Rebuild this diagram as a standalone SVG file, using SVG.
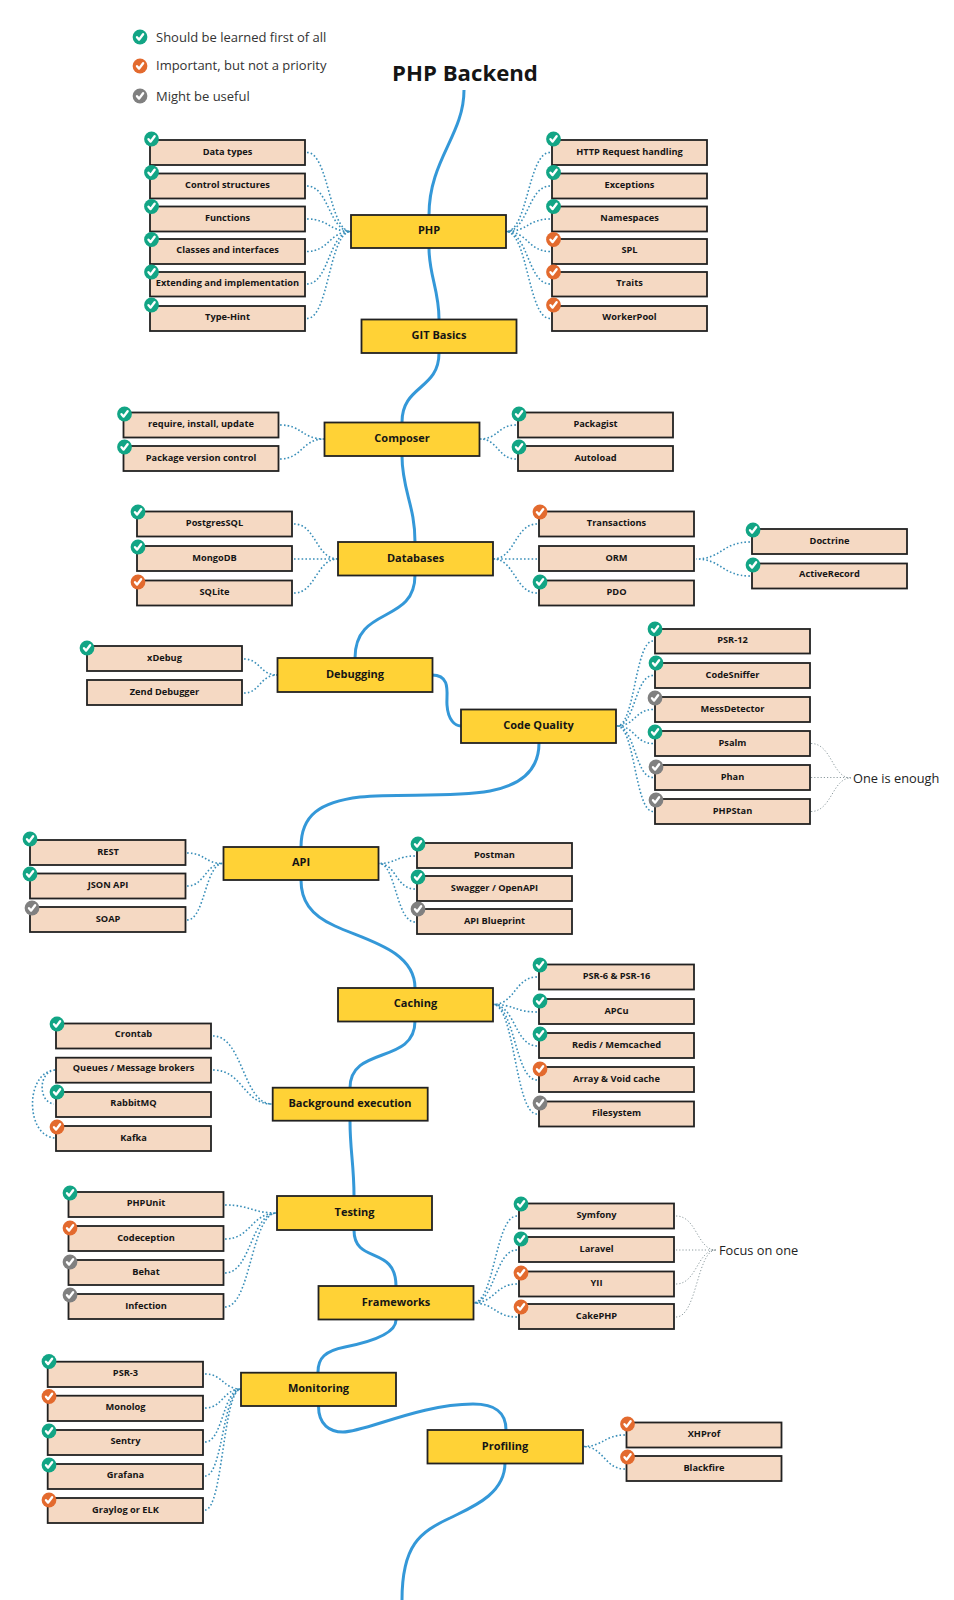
<svg xmlns="http://www.w3.org/2000/svg" width="954" height="1600" viewBox="0 0 954 1600">
<style>
text{font-family:"Open Sans","Noto Sans","Liberation Sans",sans-serif;fill:#151515}
.t{font-size:22.2px;font-weight:700;text-anchor:middle}
.lg{font-size:13px;fill:#333}
.nt{font-size:11px;font-weight:700;text-anchor:middle;transform:translateY(-1px)}
.lt{font-size:9.25px;font-weight:700;text-anchor:middle;transform:translateY(-1px)}
.nl{font-size:12.8px;fill:#222}
.n{fill:#ffd236;stroke:#222;stroke-width:1.8}
.l{fill:#f5d9c3;stroke:#222;stroke-width:1.8}
.m{fill:none;stroke:#3498d8;stroke-width:3}
.d{fill:none;stroke:#3a8fb9;stroke-width:1.6;stroke-dasharray:1.6 2.2}
.g{fill:none;stroke:#8c9a9e;stroke-width:1;stroke-dasharray:1.2 2}
.ck{fill:none;stroke:#fff;stroke-width:2.4;stroke-linecap:round;stroke-linejoin:round}
</style>
<defs>
<g id="G"><circle r="7.4" fill="#12a585"/><path class="ck" d="M-3 .2 -.9 2.6 3.1 -2.8"/></g>
<g id="O"><circle r="7.4" fill="#e36a2e"/><path class="ck" d="M-3 .2 -.9 2.6 3.1 -2.8"/></g>
<g id="Y"><circle r="7.4" fill="#808080"/><path class="ck" d="M-3 .2 -.9 2.6 3.1 -2.8"/></g>
</defs>
<g id="legend">
<use href="#G" x="140" y="37"/><text class="lg" x="156" y="42">Should be learned first of all</text>
<use href="#O" x="140" y="66"/><text class="lg" x="156" y="70">Important, but not a priority</text>
<use href="#Y" x="140" y="96"/><text class="lg" x="156" y="101">Might be useful</text>
</g>
<text id="title" class="t" x="465" y="81">PHP Backend</text>
<g id="connectors">
<g id="main">
<path class="m" d="M464 90C464 135 429 160 429 215"/>
<path class="m" d="M429 248C429 275 439 290 439 319"/>
<path class="m" d="M439 353C439 390 402 385 402 422"/>
<path class="m" d="M402 456C402 490 415 505 415 542"/>
<path class="m" d="M415 575C415 625 355 605 355 658"/>
<path class="m" d="M432 675C452 675 446 695 447 705C448 720 455 726 461 726"/>
<path class="m" d="M539 743C539 770 522 785 490 791C450 798 400 793 360 797C320 802 301 815 301 847"/>
<path class="m" d="M301 880C301 900 310 915 335 926C365 940 415 950 415 988"/>
<path class="m" d="M415 1021C415 1065 350 1045 350 1088"/>
<path class="m" d="M350 1121C350 1150 354 1165 354 1196"/>
<path class="m" d="M354 1230C354 1265 396 1245 396 1286"/>
<path class="m" d="M396 1320C396 1335 365 1343 345 1347C325 1351 318 1358 318 1372"/>
<path class="m" d="M318.500 1406C318.500 1425 330 1432 343 1432C365 1432 420 1404 473 1404C495 1404 506 1412 506 1430"/>
<path class="m" d="M505 1463C505 1495 470 1508 450 1518C420 1532 402 1545 402 1600"/>
</g>
<g id="dots">
<path class="d" d="M307 152.500C329 152.500 329 231.500 351 231.500M307 186C329 186 329 231.500 351 231.500M307 219C329 219 329 231.500 351 231.500M307 251.500C329 251.500 329 231.500 351 231.500M307 284C329 284 329 231.500 351 231.500M307 318.500C329 318.500 329 231.500 351 231.500"/>
<path class="d" d="M550 152.500C528 152.500 528 231.500 506 231.500M550 186C528 186 528 231.500 506 231.500M550 219C528 219 528 231.500 506 231.500M550 251.500C528 251.500 528 231.500 506 231.500M550 284C528 284 528 231.500 506 231.500M550 318.500C528 318.500 528 231.500 506 231.500"/>
<path class="d" d="M280 425C302 425 302 439 324 439M280 459C302 459 302 439 324 439"/>
<path class="d" d="M516 425C498 425 498 439 480 439M516 459C498 459 498 439 480 439"/>
<path class="d" d="M294 524C316 524 316 559 338 559M294 559H338M294 593C316 593 316 559 338 559"/>
<path class="d" d="M537 524C515 524 515 559 493 559M537 559H493M537 593C515 593 515 559 493 559"/>
<path class="d" d="M750 542C722 542 722 559 696 559M750 576C722 576 722 559 696 559"/>
<path class="d" d="M244 659C260 659 260 675 277 675M244 693C260 693 260 675 277 675"/>
<path class="d" d="M653 641C635 641 635 726 617 726M653 675.500C635 675.500 635 726 617 726M653 709.500C635 709.500 635 726 617 726M653 743.500C635 743.500 635 726 617 726M653 777.500C635 777.500 635 726 617 726M653 811.500C635 811.500 635 726 617 726"/>
<path class="d" d="M187 853C205 853 205 863.500 223 863.500M187 886C205 886 205 863.500 223 863.500M187 920C205 920 205 863.500 223 863.500"/>
<path class="d" d="M415 856C396 856 396 863.500 379 863.500M415 889C396 889 396 863.500 379 863.500M415 922C396 922 396 863.500 379 863.500"/>
<path class="d" d="M537 977C515 977 515 1004.500 493 1004.500M537 1012C515 1012 515 1004.500 493 1004.500M537 1046C515 1046 515 1004.500 493 1004.500M537 1080C515 1080 515 1004.500 493 1004.500M537 1114C515 1114 515 1004.500 493 1004.500"/>
<path class="d" d="M213 1036C243 1036 243 1104 272 1104M213 1070C243 1070 243 1104 272 1104"/>
<path class="d" d="M55 1070C38 1072 38 1102 54 1104M55 1070C25 1072 25 1136 55 1138"/>
<path class="d" d="M225 1205C251 1205 251 1213 277 1213M225 1239C251 1239 251 1213 277 1213M225 1273C251 1273 251 1213 277 1213M225 1307C251 1307 251 1213 277 1213"/>
<path class="d" d="M517 1216C495 1216 495 1303 473 1303M517 1250C495 1250 495 1303 473 1303M517 1284C495 1284 495 1303 473 1303M517 1317C495 1317 495 1303 473 1303"/>
<path class="d" d="M205 1374C223 1374 223 1389 241 1389M205 1408C223 1408 223 1389 241 1389M205 1442C223 1442 223 1389 241 1389M205 1476C223 1476 223 1389 241 1389M205 1510C223 1510 223 1389 241 1389"/>
<path class="d" d="M625 1435C604 1435 604 1446.500 583 1446.500M625 1469C604 1469 604 1446.500 583 1446.500"/>
<path class="g" d="M811 743.500C832 743.500 832 778 851 778M811 777.500H851M811 811.500C832 811.500 832 778 851 778"/>
<path class="g" d="M676 1216C697 1216 697 1250 716 1250M676 1250H716M676 1284C697 1284 697 1250 716 1250M676 1317C697 1317 697 1250 716 1250"/>
</g>
</g>
<g id="node-php"><rect class="n" x="351" y="215" width="155" height="33"/><text class="nt" x="429" y="235">PHP</text></g>
<g id="node-git"><rect class="n" x="361.500" y="319.500" width="155" height="33.500"/><text class="nt" x="439" y="340">GIT Basics</text></g>
<g id="node-composer"><rect class="n" x="324.500" y="422.500" width="155" height="33.500"/><text class="nt" x="402" y="443">Composer</text></g>
<g id="node-databases"><rect class="n" x="338" y="542" width="155" height="33.500"/><text class="nt" x="415.500" y="563">Databases</text></g>
<g id="node-debugging"><rect class="n" x="277.500" y="658" width="155" height="34"/><text class="nt" x="355" y="679">Debugging</text></g>
<g id="node-codequality"><rect class="n" x="461" y="709.500" width="155" height="33.500"/><text class="nt" x="538.500" y="730">Code Quality</text></g>
<g id="node-api"><rect class="n" x="223.500" y="847" width="155" height="33"/><text class="nt" x="301" y="867">API</text></g>
<g id="node-caching"><rect class="n" x="338" y="988" width="155" height="33.500"/><text class="nt" x="415.500" y="1008">Caching</text></g>
<g id="node-background"><rect class="n" x="272.700" y="1087.700" width="155" height="33"/><text class="nt" x="350" y="1107.500">Background execution</text></g>
<g id="node-testing"><rect class="n" x="277" y="1196" width="155" height="34"/><text class="nt" x="354.500" y="1217">Testing</text></g>
<g id="node-frameworks"><rect class="n" x="318.500" y="1286" width="155" height="33.500"/><text class="nt" x="396" y="1306.500">Frameworks</text></g>
<g id="node-monitoring"><rect class="n" x="241" y="1372.700" width="155" height="33.300"/><text class="nt" x="318.500" y="1393">Monitoring</text></g>
<g id="node-profiling"><rect class="n" x="427.500" y="1430" width="155.500" height="33.500"/><text class="nt" x="505" y="1450.500">Profiling</text></g>
<g id="leaves">
<g id="l1"><rect class="l" x="150" y="140" width="155" height="25"/><text class="lt" x="227.500" y="155.500">Data types</text><use href="#G" x="151.500" y="139"/></g>
<g id="l2"><rect class="l" x="150" y="173.500" width="155" height="25"/><text class="lt" x="227.500" y="188.500">Control structures</text><use href="#G" x="151.500" y="172.500"/></g>
<g id="l3"><rect class="l" x="150" y="206.500" width="155" height="25"/><text class="lt" x="227.500" y="221.500">Functions</text><use href="#G" x="151.500" y="206.500"/></g>
<g id="l4"><rect class="l" x="150" y="239" width="155" height="25"/><text class="lt" x="227.500" y="254">Classes and interfaces</text><use href="#G" x="151.500" y="239.500"/></g>
<g id="l5"><rect class="l" x="150" y="272" width="155" height="24.500"/><text class="lt" x="227.500" y="286.500">Extending and implementation</text><use href="#G" x="151.500" y="272"/></g>
<g id="l6"><rect class="l" x="150" y="306" width="155" height="25"/><text class="lt" x="227.500" y="321">Type-Hint</text><use href="#G" x="151.500" y="305"/></g>
<g id="l7"><rect class="l" x="552" y="140" width="155" height="25"/><text class="lt" x="629.500" y="155.500">HTTP Request handling</text><use href="#G" x="553.500" y="139"/></g>
<g id="l8"><rect class="l" x="552" y="173.500" width="155" height="25"/><text class="lt" x="629.500" y="188.500">Exceptions</text><use href="#G" x="553.500" y="172.500"/></g>
<g id="l9"><rect class="l" x="552" y="206.500" width="155" height="25"/><text class="lt" x="629.500" y="221.500">Namespaces</text><use href="#G" x="553.500" y="206.500"/></g>
<g id="l10"><rect class="l" x="552" y="239" width="155" height="25"/><text class="lt" x="629.500" y="254">SPL</text><use href="#O" x="553.500" y="239.500"/></g>
<g id="l11"><rect class="l" x="552" y="272" width="155" height="24.500"/><text class="lt" x="629.500" y="286.500">Traits</text><use href="#O" x="553.500" y="272"/></g>
<g id="l12"><rect class="l" x="552" y="306" width="155" height="25"/><text class="lt" x="629.500" y="321">WorkerPool</text><use href="#O" x="553.500" y="305"/></g>
<g id="l13"><rect class="l" x="123.500" y="412.500" width="155" height="25"/><text class="lt" x="201" y="428">require, install, update</text><use href="#G" x="124.500" y="414"/></g>
<g id="l14"><rect class="l" x="123.500" y="446" width="155" height="25"/><text class="lt" x="201" y="462">Package version control</text><use href="#G" x="124.500" y="447"/></g>
<g id="l15"><rect class="l" x="518" y="412.500" width="155" height="25"/><text class="lt" x="595.500" y="428">Packagist</text><use href="#G" x="519" y="414"/></g>
<g id="l16"><rect class="l" x="518" y="446" width="155" height="25"/><text class="lt" x="595.500" y="462">Autoload</text><use href="#G" x="519" y="447"/></g>
<g id="l17"><rect class="l" x="137" y="511.500" width="155" height="25"/><text class="lt" x="214.500" y="527">PostgresSQL</text><use href="#G" x="138" y="512"/></g>
<g id="l18"><rect class="l" x="137" y="546" width="155" height="25"/><text class="lt" x="214.500" y="561.500">MongoDB</text><use href="#G" x="138" y="547"/></g>
<g id="l19"><rect class="l" x="137" y="580.500" width="155" height="25"/><text class="lt" x="214.500" y="596">SQLite</text><use href="#O" x="138" y="582"/></g>
<g id="l20"><rect class="l" x="539" y="511.500" width="155" height="25"/><text class="lt" x="616.500" y="527">Transactions</text><use href="#O" x="540" y="512"/></g>
<g id="l21"><rect class="l" x="539" y="546" width="155" height="25"/><text class="lt" x="616.500" y="561.500">ORM</text></g>
<g id="l22"><rect class="l" x="539" y="580.500" width="155" height="25"/><text class="lt" x="616.500" y="596">PDO</text><use href="#G" x="540" y="582"/></g>
<g id="l23"><rect class="l" x="752" y="529" width="155" height="25"/><text class="lt" x="829.500" y="545">Doctrine</text><use href="#G" x="753" y="530"/></g>
<g id="l24"><rect class="l" x="752" y="563.500" width="155" height="25"/><text class="lt" x="829.500" y="578">ActiveRecord</text><use href="#G" x="753" y="565"/></g>
<g id="l25"><rect class="l" x="87" y="646" width="155" height="25"/><text class="lt" x="164.500" y="661.500">xDebug</text><use href="#G" x="87" y="648"/></g>
<g id="l26"><rect class="l" x="87" y="680" width="155" height="25"/><text class="lt" x="164.500" y="695.500">Zend Debugger</text></g>
<g id="l27"><rect class="l" x="655" y="629" width="155" height="24.500"/><text class="lt" x="732.500" y="644">PSR-12</text><use href="#G" x="655" y="629"/></g>
<g id="l28"><rect class="l" x="655" y="663" width="155" height="25"/><text class="lt" x="732.500" y="678.500">CodeSniffer</text><use href="#G" x="656" y="663"/></g>
<g id="l29"><rect class="l" x="655" y="697" width="155" height="25"/><text class="lt" x="732.500" y="712.500">MessDetector</text><use href="#Y" x="655" y="698"/></g>
<g id="l30"><rect class="l" x="655" y="731" width="155" height="25"/><text class="lt" x="732.500" y="746.500">Psalm</text><use href="#G" x="655" y="732"/></g>
<g id="l31"><rect class="l" x="655" y="765" width="155" height="25"/><text class="lt" x="732.500" y="780.500">Phan</text><use href="#Y" x="656" y="767"/></g>
<g id="l32"><rect class="l" x="655" y="799" width="155" height="25"/><text class="lt" x="732.500" y="814.500">PHPStan</text><use href="#Y" x="656" y="800"/></g>
<text id="one-is-enough" class="nl" x="853" y="782.500">One is enough</text>
<g id="l33"><rect class="l" x="30" y="840" width="155.500" height="25"/><text class="lt" x="108" y="855.500">REST</text><use href="#G" x="30" y="839"/></g>
<g id="l34"><rect class="l" x="30" y="873.500" width="155.500" height="25"/><text class="lt" x="108" y="889">JSON API</text><use href="#G" x="30" y="874"/></g>
<g id="l35"><rect class="l" x="30" y="907" width="155.500" height="25"/><text class="lt" x="108" y="922.500">SOAP</text><use href="#Y" x="32" y="908"/></g>
<g id="l36"><rect class="l" x="417" y="843" width="155" height="25"/><text class="lt" x="494.500" y="858.500">Postman</text><use href="#G" x="418" y="844"/></g>
<g id="l37"><rect class="l" x="417" y="876" width="155" height="25"/><text class="lt" x="494.500" y="891.500">Swagger / OpenAPI</text><use href="#G" x="418" y="877"/></g>
<g id="l38"><rect class="l" x="417" y="909" width="155" height="25"/><text class="lt" x="494.500" y="924.500">API Blueprint</text><use href="#Y" x="418" y="909"/></g>
<g id="l39"><rect class="l" x="539" y="964.500" width="155" height="25"/><text class="lt" x="616.500" y="980">PSR-6 &amp; PSR-16</text><use href="#G" x="540" y="965"/></g>
<g id="l40"><rect class="l" x="539" y="999" width="155" height="25"/><text class="lt" x="616.500" y="1014.500">APCu</text><use href="#G" x="540" y="1001"/></g>
<g id="l41"><rect class="l" x="539" y="1033" width="155" height="25"/><text class="lt" x="616.500" y="1048.500">Redis / Memcached</text><use href="#G" x="540" y="1034"/></g>
<g id="l42"><rect class="l" x="539" y="1067" width="155" height="25"/><text class="lt" x="616.500" y="1082.500">Array &amp; Void cache</text><use href="#O" x="540" y="1069"/></g>
<g id="l43"><rect class="l" x="539" y="1101.500" width="155" height="25"/><text class="lt" x="616.500" y="1117">Filesystem</text><use href="#Y" x="540" y="1103"/></g>
<g id="l44"><rect class="l" x="56" y="1023.500" width="155" height="25"/><text class="lt" x="133.500" y="1038">Crontab</text><use href="#G" x="57" y="1024"/></g>
<g id="l45"><rect class="l" x="56" y="1057.700" width="155" height="25"/><text class="lt" x="133.500" y="1072">Queues / Message brokers</text></g>
<g id="l46"><rect class="l" x="56" y="1092" width="155" height="25"/><text class="lt" x="133.500" y="1107">RabbitMQ</text><use href="#G" x="57" y="1092"/></g>
<g id="l47"><rect class="l" x="56" y="1126" width="155" height="25"/><text class="lt" x="133.500" y="1141.500">Kafka</text><use href="#O" x="57" y="1127"/></g>
<g id="l48"><rect class="l" x="68.500" y="1192" width="155" height="25"/><text class="lt" x="146" y="1207">PHPUnit</text><use href="#G" x="70" y="1193"/></g>
<g id="l49"><rect class="l" x="68.500" y="1226" width="155" height="25"/><text class="lt" x="146" y="1241.500">Codeception</text><use href="#O" x="70" y="1228"/></g>
<g id="l50"><rect class="l" x="68.500" y="1260" width="155" height="25"/><text class="lt" x="146" y="1275.500">Behat</text><use href="#Y" x="70" y="1262"/></g>
<g id="l51"><rect class="l" x="68.500" y="1294" width="155" height="25"/><text class="lt" x="146" y="1309.500">Infection</text><use href="#Y" x="70" y="1295"/></g>
<g id="l52"><rect class="l" x="519" y="1203.500" width="155" height="25"/><text class="lt" x="596.500" y="1218.500">Symfony</text><use href="#G" x="521" y="1204"/></g>
<g id="l53"><rect class="l" x="519" y="1237" width="155" height="25"/><text class="lt" x="596.500" y="1252.500">Laravel</text><use href="#G" x="521" y="1239"/></g>
<g id="l54"><rect class="l" x="519" y="1271.500" width="155" height="25"/><text class="lt" x="596.500" y="1287">YII</text><use href="#O" x="521" y="1273"/></g>
<g id="l55"><rect class="l" x="519" y="1304" width="155" height="25"/><text class="lt" x="596.500" y="1319.500">CakePHP</text><use href="#O" x="521" y="1307"/></g>
<text id="focus-on-one" class="nl" x="719" y="1255">Focus on one</text>
<g id="l56"><rect class="l" x="47.700" y="1361.700" width="155.300" height="25.300"/><text class="lt" x="125.500" y="1377">PSR-3</text><use href="#G" x="49" y="1361.500"/></g>
<g id="l57"><rect class="l" x="47.700" y="1395.700" width="155.300" height="25.300"/><text class="lt" x="125.500" y="1411">Monolog</text><use href="#O" x="49" y="1396.500"/></g>
<g id="l58"><rect class="l" x="47.700" y="1430" width="155.300" height="25"/><text class="lt" x="125.500" y="1445">Sentry</text><use href="#G" x="49" y="1431"/></g>
<g id="l59"><rect class="l" x="47.700" y="1464" width="155.300" height="25"/><text class="lt" x="125.500" y="1479">Grafana</text><use href="#G" x="49" y="1465"/></g>
<g id="l60"><rect class="l" x="47.700" y="1498" width="155.300" height="25"/><text class="lt" x="125.500" y="1513.500">Graylog or ELK</text><use href="#O" x="49" y="1500"/></g>
<g id="l61"><rect class="l" x="626.500" y="1422.500" width="155" height="25"/><text class="lt" x="704" y="1438">XHProf</text><use href="#O" x="627.500" y="1424"/></g>
<g id="l62"><rect class="l" x="626.500" y="1456" width="155" height="25"/><text class="lt" x="704" y="1471.500">Blackfire</text><use href="#O" x="627.500" y="1457"/></g>
</g>
</svg>
